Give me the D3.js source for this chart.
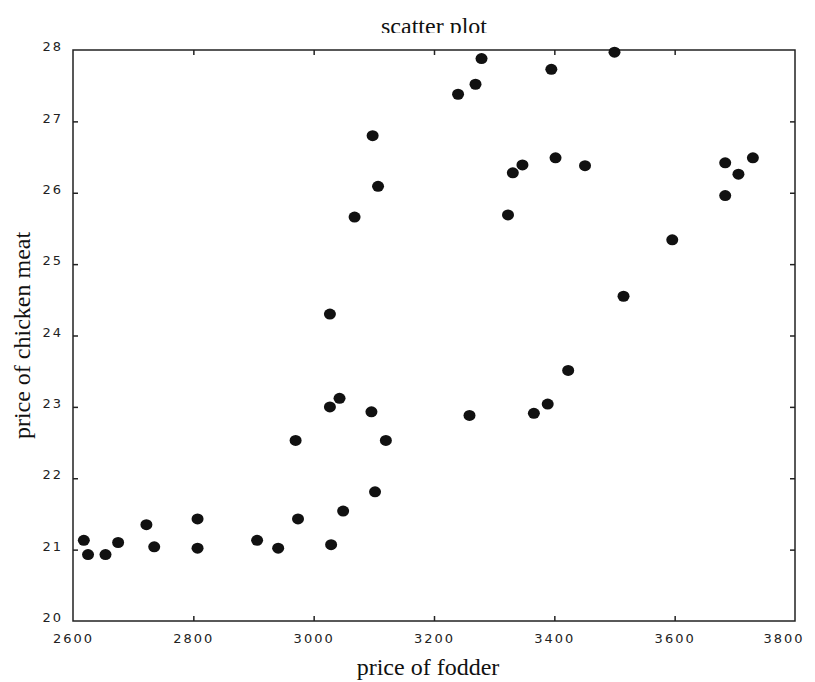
<!DOCTYPE html>
<html>
<head>
<meta charset="utf-8">
<script src="https://cdn.jsdelivr.net/npm/d3@7"></script>
<style>
  body { margin: 0; background: #fff; }
  svg { display: block; }
</style>
</head>
<body>
<div id="chart"></div>
<script>
// fodder price (x) and chicken meat price (y)
const fodder = [
    2618, 2625, 2654, 2675, 2722, 2735, 2807, 2807, 2906, 2941,
    2970, 2974, 3027, 3027, 3043, 3029, 3049, 3068, 3098, 3107,
    3096, 3120, 3102,
    3240, 3269, 3279, 3395, 3500, 3331, 3347, 3402, 3451, 3323,
    3684, 3706, 3730, 3684, 3596, 3515, 3423, 3259, 3366, 3389
];
const chicken = [
    21.13, 20.93, 20.93, 21.10, 21.35, 21.04, 21.43, 21.02, 21.13, 21.02,
    22.53, 21.43, 24.30, 23.00, 23.12, 21.07, 21.54, 25.66, 26.80, 26.09,
    22.93, 22.53, 21.81,
    27.38, 27.52, 27.88, 27.73, 27.97, 26.28, 26.39, 26.49, 26.38, 25.69,
    26.42, 26.26, 26.49, 25.96, 25.34, 24.55, 23.51, 22.88, 22.91, 23.04
];
const xTicks = [2600, 2800, 3000, 3200, 3400, 3600, 3800];
const yTicks = [20, 21, 22, 23, 24, 25, 26, 27, 28];

const title = "scatter plot";
const xLabel = "price of fodder";
const yLabel = "price of chicken meat";

const width = 815;
const height = 682;
const marginTop = 50;
const marginRight = 20;
const marginBottom = 61;
const marginLeft = 73;

const x = d3.scaleLinear()
    .domain([2600, 3800])
    .range([marginLeft, width - marginRight]);

const y = d3.scaleLinear()
    .domain([20, 28])
    .range([height - marginBottom, marginTop]);

const svg = d3.select("#chart").append("svg")
    .attr("width", width)
    .attr("height", height)
    .attr("viewBox", [0, 0, width, height]);

const serif = "'Liberation Serif', 'Times New Roman', serif";
const sans = "'DejaVu Sans', Arial, sans-serif";

// title is cut off at the bottom in the original
svg.append("clipPath")
    .attr("id", "title-clip")
    .append("rect")
    .attr("x", 0).attr("y", 0)
    .attr("width", width).attr("height", 33);

svg.append("text")
    .attr("clip-path", "url(#title-clip)")
    .attr("x", (x.range()[0] + x.range()[1]) / 2)
    .attr("y", 34)
    .attr("text-anchor", "middle")
    .attr("font-family", serif)
    .attr("font-size", 24)
    .attr("fill", "#111")
    .text(title);

// axes, ticks pointing inwards on all four sides
const tickStyle = g => {
    g.select(".domain").remove();
    g.selectAll(".tick line").attr("stroke", "#222").attr("stroke-width", 1.5);
    g.selectAll(".tick text")
        .attr("font-family", sans)
        .attr("font-size", 13)
        .attr("letter-spacing", "2px")
        .attr("fill", "#222");
};

svg.append("g")
    .attr("transform", `translate(0,${y(20)})`)
    .call(d3.axisBottom(x).tickValues(xTicks).tickSize(-5).tickPadding(0).tickFormat(d3.format("d")))
    .call(tickStyle)
    .call(g => g.selectAll(".tick text").attr("y", 22).attr("dy", 0))
    .call(g => g.selectAll(".tick").filter(d => d === 2600 || d === 3800).select("line").remove())
    .call(g => g.selectAll(".tick").filter(d => d === 3800).select("text")
        .attr("text-anchor", "end").attr("x", 9));

svg.append("g")
    .attr("transform", `translate(0,${y(28)})`)
    .call(d3.axisTop(x).tickValues(xTicks.slice(1, -1)).tickSize(-5).tickFormat(""))
    .call(tickStyle);

svg.append("g")
    .attr("transform", `translate(${x(2600)},0)`)
    .call(d3.axisLeft(y).tickValues(yTicks).tickSize(-5).tickFormat(d3.format("d")))
    .call(tickStyle)
    .call(g => g.selectAll(".tick text").attr("x", -10).attr("dy", "0.05em"))
    .call(g => g.selectAll(".tick").filter(d => d === 20 || d === 28).select("line").remove());

svg.append("g")
    .attr("transform", `translate(${x(3800)},0)`)
    .call(d3.axisRight(y).tickValues(yTicks.slice(1, -1)).tickSize(-5).tickFormat(""))
    .call(tickStyle);

// frame
svg.append("rect")
    .attr("x", x(2600))
    .attr("y", y(28))
    .attr("width", x(3800) - x(2600))
    .attr("height", y(20) - y(28))
    .attr("fill", "none")
    .attr("stroke", "#222")
    .attr("stroke-width", 1.5);

// axis titles
svg.append("text")
    .attr("x", 428)
    .attr("y", 675)
    .attr("text-anchor", "middle")
    .attr("font-family", serif)
    .attr("font-size", 24)
    .attr("fill", "#111")
    .text(xLabel);

svg.append("text")
    .attr("transform", `translate(30,${(y(20) + y(28)) / 2}) rotate(-90)`)
    .attr("text-anchor", "middle")
    .attr("font-family", serif)
    .attr("font-size", 24)
    .attr("fill", "#111")
    .text(yLabel);

// points
svg.append("g")
    .attr("fill", "#111")
    .selectAll("ellipse")
    .data(d3.range(fodder.length))
    .join("ellipse")
    .attr("cx", i => x(fodder[i]))
    .attr("cy", i => y(chicken[i]))
    .attr("rx", 6)
    .attr("ry", 5.5);
</script>
</body>
</html>
